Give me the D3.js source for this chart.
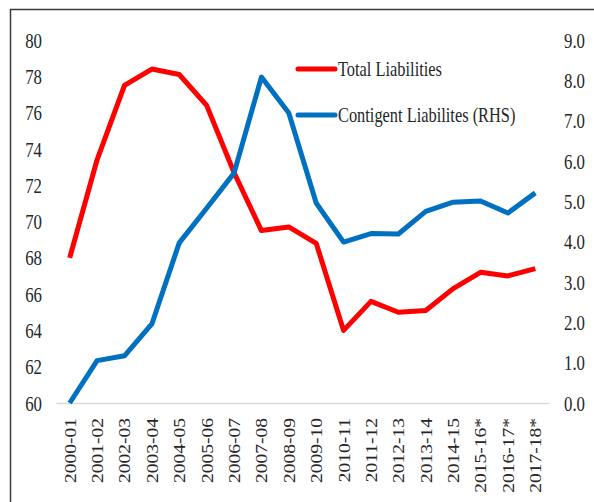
<!DOCTYPE html>
<html>
<head>
<meta charset="utf-8">
<script src="https://cdn.jsdelivr.net/npm/d3@7"></script>
<style>
  body { margin: 0; background: #fff; }
  text { font-family: "Liberation Serif", "Times New Roman", serif; fill: #262626; }
</style>
</head>
<body>
<div id="chart"></div>
<script>
// Data
var years = ["2000-01", "2001-02", "2002-03", "2003-04", "2004-05", "2005-06",
  "2006-07", "2007-08", "2008-09", "2009-10", "2010-11", "2011-12", "2012-13",
  "2013-14", "2014-15", "2015-16*", "2016-17*", "2017-18*"];
var totalLiabilities = [68.0, 73.4, 77.5, 78.4, 78.1, 76.4, 72.7, 69.5, 69.7,
  68.8, 64.0, 65.6, 65.0, 65.1, 66.3, 67.2, 67.0, 67.4];
var contingentLiabilities = [0.0, 1.05, 1.17, 1.96, 3.97, 4.83, 5.7, 8.08, 7.19,
  4.96, 3.99, 4.2, 4.19, 4.75, 4.98, 5.01, 4.71, 5.21];
var leftTicks = [60, 62, 64, 66, 68, 70, 72, 74, 76, 78, 80];
var rightTicks = [0, 1, 2, 3, 4, 5, 6, 7, 8, 9];
var seriesNames = ["Total Liabilities", "Contigent Liabilites (RHS)"];

// SVG area dimensions
var svgWidth = 594;
var svgHeight = 502;

var chartMargin = { top: 40, right: 45, bottom: 99, left: 56 };
var chartWidth = svgWidth - chartMargin.left - chartMargin.right;
var chartHeight = svgHeight - chartMargin.top - chartMargin.bottom;

var svg = d3.select("#chart")
  .append("svg")
  .attr("width", svgWidth)
  .attr("height", svgHeight);

// outer frame (runs off the right and bottom edges)
svg.append("rect")
  .attr("x", 10.5)
  .attr("y", 9.5)
  .attr("width", 700)
  .attr("height", 700)
  .attr("fill", "none")
  .attr("stroke", "#3a3a3a")
  .attr("stroke-width", 1.5);

var chartGroup = svg.append("g")
  .attr("transform", `translate(${chartMargin.left}, ${chartMargin.top})`);

// scales
var xScale = d3.scalePoint()
  .domain(years)
  .range([0, chartWidth])
  .padding(0.5);

var yLeft = d3.scaleLinear()
  .domain([60, 80])
  .range([chartHeight, 0]);

var yRight = d3.scaleLinear()
  .domain([0, 9])
  .range([chartHeight, 0]);

// left axis
var leftAxis = chartGroup.append("g")
  .call(d3.axisLeft(yLeft).tickValues(leftTicks).tickSize(0).tickPadding(14));
leftAxis.select(".domain").remove();
leftAxis.selectAll("text")
  .attr("x", 0)
  .attr("dy", "0.34em")
  .attr("transform", "translate(-14,0) scale(0.8,1)")
  .style("font-size", "21px")
  .style("font-family", "Liberation Serif");

// right axis
var rightAxis = chartGroup.append("g")
  .attr("transform", `translate(${chartWidth}, 0)`)
  .call(d3.axisRight(yRight).tickValues(rightTicks).tickSize(0)
    .tickFormat(d3.format(".1f")));
rightAxis.select(".domain").remove();
rightAxis.selectAll("text")
  .attr("x", 0)
  .attr("dy", "0.34em")
  .attr("transform", "translate(15,0) scale(0.8,1)")
  .style("font-size", "21px")
  .style("font-family", "Liberation Serif");

// bottom axis with rotated year labels
var bottomAxis = chartGroup.append("g")
  .attr("transform", `translate(0, ${chartHeight})`)
  .call(d3.axisBottom(xScale).tickSize(0));
bottomAxis.select(".domain")
  .attr("stroke", "#d9d9d9")
  .attr("stroke-width", 1.5);
bottomAxis.selectAll("text")
  .attr("x", 0)
  .attr("y", 0)
  .attr("dy", "0.34em")
  .attr("text-anchor", "end")
  .attr("transform", "translate(0,15) rotate(-90) scale(1,0.82)")
  .style("font-size", "19.5px")
  .style("font-family", "Liberation Serif");

// lines
var leftLine = d3.line()
  .x((d, i) => xScale(years[i]))
  .y(d => yLeft(d));

var rightLine = d3.line()
  .x((d, i) => xScale(years[i]))
  .y(d => yRight(d));

chartGroup.append("path")
  .datum(totalLiabilities)
  .attr("d", leftLine)
  .attr("fill", "none")
  .attr("stroke", "#ff0000")
  .attr("stroke-width", 5)
  .attr("stroke-linejoin", "round");

chartGroup.append("path")
  .datum(contingentLiabilities)
  .attr("d", rightLine)
  .attr("fill", "none")
  .attr("stroke", "#0070c0")
  .attr("stroke-width", 5)
  .attr("stroke-linejoin", "round");

// legend
var colors = ["#ff0000", "#0070c0"];
var legend = svg.append("g")
  .attr("transform", "translate(298, 69)");

seriesNames.forEach(function(name, i) {
  var row = legend.append("g")
    .attr("transform", `translate(0, ${i * 46})`);
  row.append("line")
    .attr("x1", 0)
    .attr("x2", 37)
    .attr("stroke", colors[i])
    .attr("stroke-width", 5)
    .attr("stroke-linecap", "round");
  row.append("text")
    .attr("dy", "0.34em")
    .attr("transform", "translate(40,0) scale(0.82,1)")
    .style("font-size", "20px")
    .text(name);
});
</script>
</body>
</html>
